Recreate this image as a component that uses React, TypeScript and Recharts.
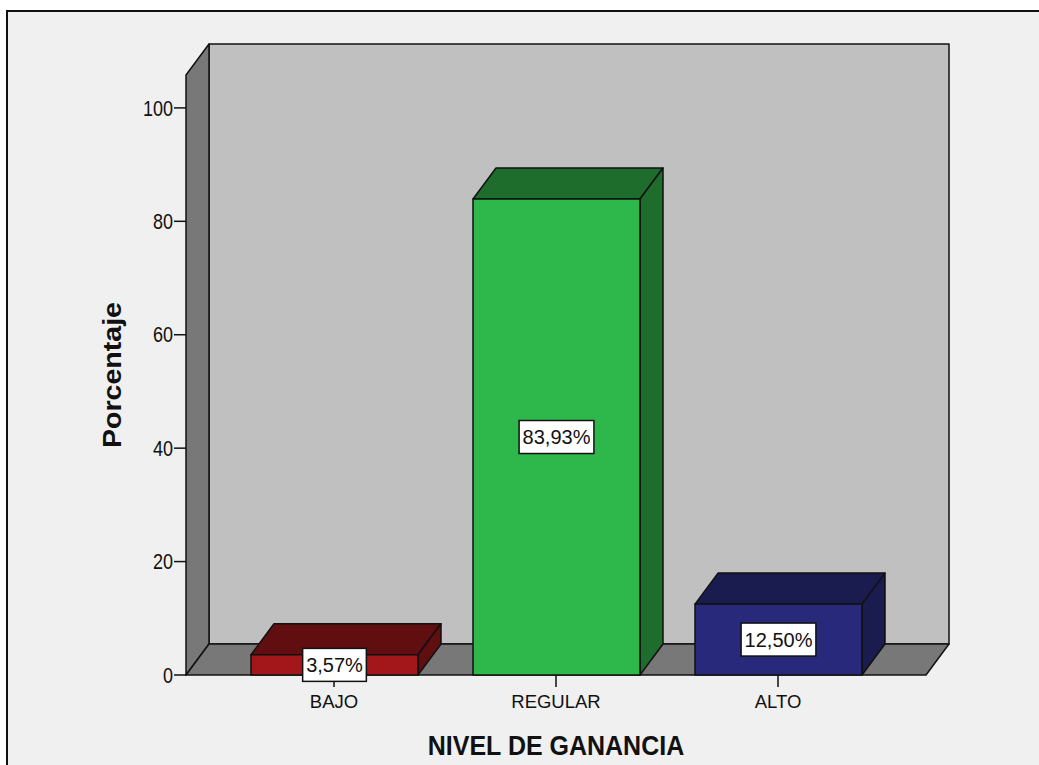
import { BarChart, Bar, XAxis, YAxis, ReferenceArea, LabelList, Label } from 'recharts';

// Datos del gráfico
const niveles = ['BAJO', 'REGULAR', 'ALTO'];
const porcentajes = [3.57, 83.93, 12.5];
const ticksPorcentaje = [0, 20, 40, 60, 80, 100];

// Colores: cara frontal y caras superior/lateral
const coloresFrente = ['#a3171b', '#2eb84b', '#28297a'];
const coloresSombra = ['#610e10', '#1e6d2c', '#1a1b4f'];

const datos = niveles.map((nivel, i) => ({ nivel, porcentaje: porcentajes[i] }));

const ANCHO = 1039;
const ALTO = 765;
const PROF_X = 23; // desplazamiento de profundidad
const PROF_Y = 31;
const PAD_X = 37;
const Y_MAX = 105.8;
const FUENTE = '"Liberation Sans", Arial, sans-serif';

const pts = (arr: number[][]) => arr.map(p => p.join(',')).join(' ');

// Paredes y piso del gráfico 3D
function Paredes(props: any) {
  const { x, y, width, height } = props;
  const x0 = x - PAD_X;
  const x1 = x + width + PAD_X;
  const y0 = y;
  const y1 = y + height;
  const linea = { stroke: '#111', strokeWidth: 1.5, strokeLinejoin: 'round' as const };
  return (
    <g>
      <rect x={x0 + PROF_X} y={y0 - PROF_Y} width={x1 - x0} height={y1 - y0} fill="#c0c0c0" {...linea} />
      <polygon points={pts([[x0, y0], [x0 + PROF_X, y0 - PROF_Y], [x0 + PROF_X, y1 - PROF_Y], [x0, y1]])} fill="#787878" {...linea} />
      <polygon points={pts([[x0, y1], [x0 + PROF_X, y1 - PROF_Y], [x1 + PROF_X, y1 - PROF_Y], [x1, y1]])} fill="#787878" {...linea} />
    </g>
  );
}

function Barra3D(props: any) {
  const { x, y, width, height, payload } = props;
  const i = niveles.indexOf(payload.nivel);
  const linea = { stroke: '#111', strokeWidth: 1.5, strokeLinejoin: 'round' as const };
  return (
    <g>
      <polygon points={pts([[x, y], [x + PROF_X, y - PROF_Y], [x + width + PROF_X, y - PROF_Y], [x + width, y]])} fill={coloresSombra[i]} {...linea} />
      <polygon points={pts([[x + width, y], [x + width + PROF_X, y - PROF_Y], [x + width + PROF_X, y + height - PROF_Y], [x + width, y + height]])} fill={coloresSombra[i]} {...linea} />
      <rect x={x} y={y} width={width} height={height} fill={coloresFrente[i]} {...linea} />
    </g>
  );
}

const anchoTexto = (s: string, fs: number) =>
  s.split('').reduce((a, c) => a + (c === ',' ? 0.278 : c === '%' ? 0.889 : 0.556), 0) * fs;

function Etiqueta(props: any) {
  const { x, y, width, height, value } = props;
  const texto = value.toFixed(2).replace('.', ',') + '%';
  const fs = 20;
  const w = anchoTexto(texto, fs) + 7;
  const h = 33;
  const cx = x + width / 2;
  const cy = y + height / 2;
  return (
    <g>
      <rect x={cx - w / 2} y={cy - h / 2} width={w} height={h} fill="#fff" stroke="#111" strokeWidth={1.5} />
      <text x={cx} y={cy + 7} textAnchor="middle" fontSize={fs} fontFamily={FUENTE} fill="#111">{texto}</text>
    </g>
  );
}

// Marcas del eje de porcentaje, algo estiradas en vertical
function TickPorcentaje(props: any) {
  const { x, y, payload } = props;
  return (
    <text x={x} y={y} textAnchor="end" fontSize={18} fontFamily={FUENTE} fill="#111"
      transform={`translate(0, ${y}) scale(1, 1.18) translate(0, ${-y})`} dy={6.5}>
      {payload.value}
    </text>
  );
}

export default function App() {
  return (
    <div style={{ position: 'absolute', left: 0, top: 0, width: ANCHO, height: ALTO, background: '#fff', overflow: 'hidden' }}>
      <div style={{ position: 'absolute', left: 6, top: 10, width: ANCHO + 20, height: ALTO + 20, background: '#f0f0f0', borderTop: '2px solid #111', borderLeft: '2px solid #111' }} />
      <div style={{ position: 'absolute', left: 0, top: 0 }}>
        <BarChart width={ANCHO} height={ALTO} data={datos} margin={{ top: 75, right: 113, bottom: 0, left: 0 }} barSize={167}>
          <ReferenceArea y1={0} y2={Y_MAX} ifOverflow="visible" shape={<Paredes />} />
          <XAxis
            dataKey="nivel"
            height={90}
            padding={{ left: PAD_X, right: PAD_X }}
            axisLine={false}
            tickSize={12}
            tickMargin={8}
            tickLine={{ stroke: '#111', strokeWidth: 1.5 }}
            tick={{ fill: '#111', fontSize: 18.5, fontFamily: FUENTE }}
          >
            <Label
              content={({ viewBox }: any) => {
                const cx = viewBox.x + viewBox.width / 2;
                return (
                  <text x={cx} y={755} textAnchor="middle" fontSize={25} fontWeight="bold" fontFamily={FUENTE} fill="#111"
                    transform="translate(0, 755) scale(1, 1.1) translate(0, -755)">
                    NIVEL DE GANANCIA
                  </text>
                );
              }}
            />
          </XAxis>
          <YAxis
            width={186}
            domain={[0, Y_MAX]}
            ticks={ticksPorcentaje}
            axisLine={false}
            tickSize={12}
            tickMargin={1}
            tickLine={{ stroke: '#111', strokeWidth: 1.5 }}
            tick={<TickPorcentaje />}
          >
            <Label
              content={({ viewBox }: any) => {
                const cx = 121;
                const cy = viewBox.y + viewBox.height / 2;
                return (
                  <text x={cx} y={cy} transform={`rotate(-90, ${cx}, ${cy})`} textAnchor="middle" fontSize={25} fontWeight="bold" fontFamily={FUENTE} fill="#111" textLength={146} lengthAdjust="spacingAndGlyphs">
                    Porcentaje
                  </text>
                );
              }}
            />
          </YAxis>
          <Bar dataKey="porcentaje" shape={<Barra3D />} isAnimationActive={false}>
            <LabelList dataKey="porcentaje" content={<Etiqueta />} />
          </Bar>
        </BarChart>
      </div>
    </div>
  );
}
